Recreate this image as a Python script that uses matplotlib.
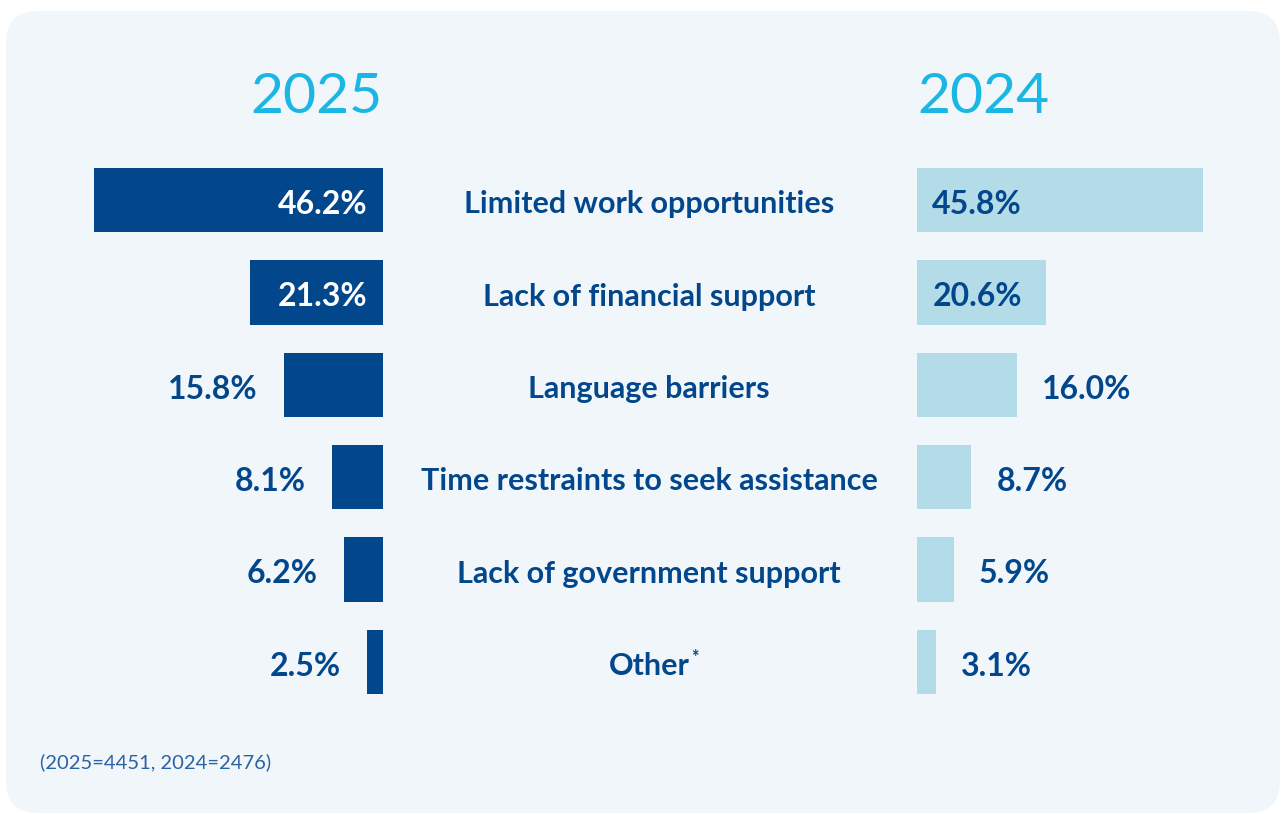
import matplotlib
matplotlib.use("Agg")
import matplotlib.pyplot as plt
from matplotlib.patches import FancyBboxPatch
from matplotlib import transforms

plt.rcParams['font.family'] = ['Lato', 'DejaVu Sans']

# survey answers, share of respondents (%)
categories = ['Limited work opportunities', 'Lack of financial support', 'Language barriers',
              'Time restraints to seek assistance', 'Lack of government support', 'Other*']
share_2025 = [46.2, 21.3, 15.8, 8.1, 6.2, 2.5]
share_2024 = [45.8, 20.6, 16.0, 8.7, 5.9, 3.1]
years = ['2025', '2024']
note = '(2025=4451, 2024=2476)'

DARK = '#02468c'
LIGHT = '#b3dbe8'
CYAN = '#1ab7e5'
PANEL = '#f0f6f9'

W, H = 1284, 814
fig = plt.figure(figsize=(W / 100, H / 100), dpi=100, facecolor='white')

panel = FancyBboxPatch((6 / W, 1 / H), 1274 / W, 802 / H,
                       boxstyle='round,pad=0,rounding_size=0.025',
                       transform=fig.transFigure, facecolor=PANEL, edgecolor='none',
                       mutation_aspect=W / H, zorder=-5)
fig.patches.append(panel)

xmax = 53.3
bottom, height = 106 / H, 554 / H
ax_l = fig.add_axes([50 / W, bottom, 333 / W, height])
ax_r = fig.add_axes([917 / W, bottom, 333 / W, height])

rows = list(range(len(categories)))
ax_l.barh(rows, share_2025, height=0.7, color=DARK)
ax_r.barh(rows, share_2024, height=0.7, color=LIGHT)

for ax in (ax_l, ax_r):
    ax.set_ylim(len(categories) - 0.5, -0.5)
    ax.set_xlim(0, xmax)
    ax.axis('off')
ax_l.invert_xaxis()

# value labels: inside the two long bars, outside the rest
lbl = dict(fontsize=23, fontweight='bold', va='center', textcoords='offset points')
for i, (a, b) in enumerate(zip(share_2025, share_2024)):
    if a > 20:
        ax_l.annotate(f'{a:.1f}%', (0, i), xytext=(-11, -3), ha='right', color='white', **lbl)
    else:
        ax_l.annotate(f'{a:.1f}%', (a, i), xytext=(-19, -3), ha='right', color=DARK, **lbl)
    if b > 20:
        ax_r.annotate(f'{b:.1f}%', (0, i), xytext=(11, -3), ha='left', color=DARK, **lbl)
    else:
        ax_r.annotate(f'{b:.1f}%', (b, i), xytext=(18, -3), ha='left', color=DARK, **lbl)

# category names in the middle column, footnote marks as small superscripts
mid = transforms.blended_transform_factory(fig.transFigure, ax_l.transData)
mid = transforms.offset_copy(mid, fig=fig, y=-3, units='points')
for i, cat in enumerate(categories):
    name = cat.rstrip('*')
    t = ax_l.text(649 / W, i, name, transform=mid, ha='center', va='center',
                  fontsize=22, fontweight='bold', color=DARK)
    if cat.endswith('*'):
        ax_l.annotate('*', xy=(1, 1), xycoords=t, xytext=(1, 2), textcoords='offset points',
                      ha='left', va='top', fontsize=13, fontweight='bold', color=DARK)

fig.text(383 / W, 1 - 113 / H, years[0], ha='right', va='baseline',
         fontsize=41, color=CYAN, fontweight='normal')
fig.text(917 / W, 1 - 113 / H, years[1], ha='left', va='baseline',
         fontsize=41, color=CYAN, fontweight='normal')

fig.text(40 / W, 1 - 768 / H, note, ha='left', va='baseline', fontsize=14.5, color='#2b62a6')

fig.savefig('out.png', dpi=100, facecolor='white')
